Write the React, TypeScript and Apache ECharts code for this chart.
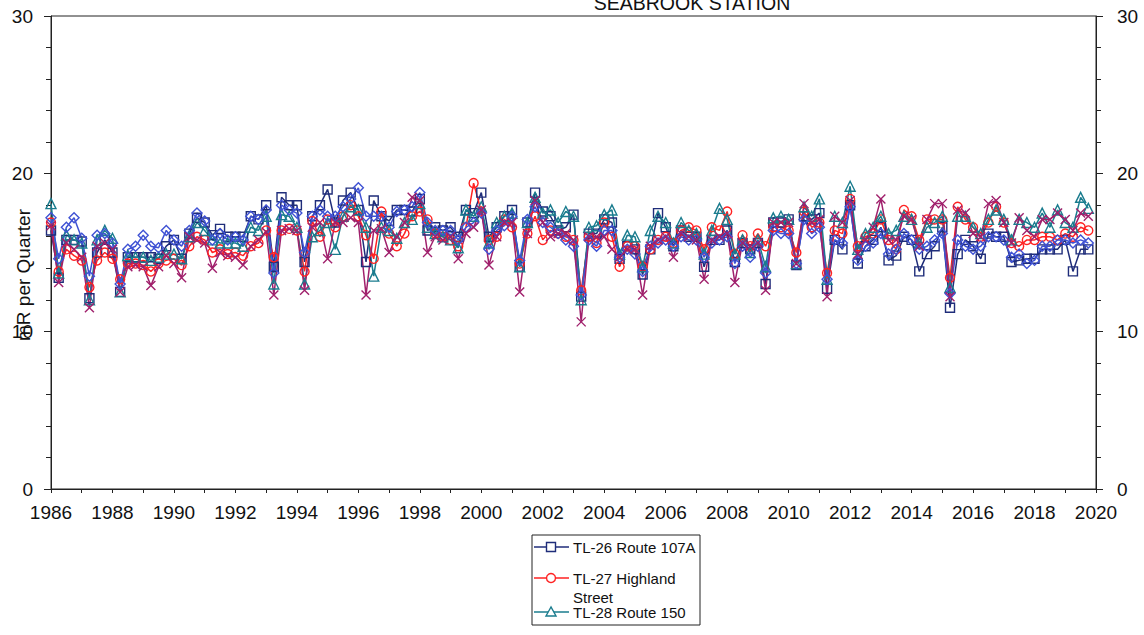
import React, { useEffect, useRef } from "react";
import * as echarts from "echarts";

// Quarterly environmental TLD readings (mR per quarter), 1986 Q1 onward.
const START_YEAR = 1986;

const tl26Route107A = [
  16.4, 13.4, 15.8, 15.8, 15.7, 12.1, 15.0, 15.8, 15.0, 12.5, 14.7, 14.7,
  14.7, 14.7, 14.6, 15.4, 15.8, 14.6, 16.2, 17.2, 16.9, 16.1, 16.5, 16.0,
  16.0, 16.0, 17.3, 17.1, 18.0, 14.1, 18.5, 18.0, 18.0, 14.4, 17.3, 18.0,
  19.0, 16.9, 18.3, 18.8, 17.7, 14.4, 18.3, 17.3, 17.0, 17.7, 17.7, 17.6,
  18.4, 16.4, 16.6, 16.4, 16.6, 16.0, 17.7, 17.5, 18.8, 16.0, 16.6, 17.3,
  17.7, 14.1, 16.9, 18.8, 17.6, 17.3, 16.4, 16.6, 17.4, 12.2, 16.2, 16.2,
  17.1, 16.9, 14.6, 15.4, 15.2, 13.6, 15.2, 17.5, 16.6, 15.4, 16.4, 16.0,
  16.0, 14.1, 15.8, 15.8, 16.4, 14.4, 15.6, 15.2, 15.6, 13.0, 16.9, 16.9,
  17.1, 14.2, 17.3, 17.1, 17.5, 12.7, 15.8, 15.2, 18.0, 14.3, 15.4, 15.8,
  16.6, 14.5, 14.8, 16.0, 15.8, 13.8, 14.9, 15.4, 16.6, 11.5, 14.9, 15.8,
  15.4, 14.6, 16.2, 16.0, 16.0, 14.4, 14.5, 14.6, 14.6, 15.2, 15.2, 15.2,
  15.8, 13.8, 15.2, 15.2,
];

const tl27HighlandStreet = [
  16.9, 13.8, 15.2, 14.8, 14.5, 12.8, 14.5, 15.0, 14.6, 13.3, 14.3, 14.3,
  14.2, 13.8, 14.3, 14.5, 14.6, 14.2, 15.4, 16.0, 15.8, 15.0, 15.2, 14.9,
  15.0, 14.8, 15.4, 15.6, 16.4, 14.7, 16.4, 16.5, 16.4, 13.8, 17.0, 16.0,
  17.1, 16.6, 17.3, 18.0, 17.3, 16.1, 14.6, 17.6, 16.2, 15.4, 16.2, 17.3,
  17.6, 17.1, 16.2, 16.0, 15.8, 15.4, 16.6, 19.4, 17.6, 15.8, 16.0, 17.1,
  16.6, 14.3, 16.2, 17.3, 15.8, 16.4, 16.2, 16.0, 15.8, 12.6, 16.0, 15.6,
  16.9, 16.0, 14.1, 15.4, 15.4, 14.1, 15.2, 15.8, 16.0, 15.6, 16.4, 16.6,
  16.4, 15.2, 16.6, 16.4, 17.6, 14.9, 16.1, 15.4, 16.2, 15.4, 16.6, 16.6,
  16.4, 15.0, 17.6, 16.6, 16.9, 13.7, 16.4, 16.2, 18.4, 15.4, 16.0, 16.2,
  17.1, 15.8, 15.2, 17.7, 17.3, 15.8, 17.1, 17.1, 17.1, 13.4, 17.9, 17.1,
  16.6, 16.0, 16.9, 17.9, 16.9, 15.6, 15.4, 15.8, 15.8, 16.0, 16.0, 15.8,
  16.2, 16.0, 16.6, 16.4,
];

const tl28Route150 = [
  18.1, 13.7, 16.1, 15.8, 15.6, 12.0, 15.8, 16.4, 15.9, 12.5, 14.8, 14.7,
  14.7, 14.5, 14.7, 14.9, 14.9, 14.6, 16.0, 16.9, 16.4, 15.8, 15.6, 15.6,
  15.6, 15.4, 16.6, 16.4, 17.3, 13.0, 17.4, 17.3, 16.6, 13.0, 16.0, 16.4,
  16.9, 15.2, 17.3, 17.9, 17.7, 16.6, 13.5, 16.6, 16.4, 15.9, 16.9, 17.1,
  18.1, 16.6, 16.2, 16.0, 15.8, 15.3, 17.7, 17.3, 17.9, 15.6, 16.9, 17.3,
  17.5, 14.1, 16.9, 18.5, 17.5, 17.7, 16.9, 17.6, 17.3, 12.0, 16.6, 16.7,
  17.4, 17.7, 14.9, 16.1, 16.0, 14.1, 16.4, 17.3, 16.9, 15.6, 16.9, 16.4,
  16.2, 14.9, 16.4, 17.8, 17.1, 14.9, 15.8, 15.0, 15.8, 14.1, 17.2, 17.3,
  17.1, 14.3, 17.9, 17.3, 18.4, 13.3, 17.3, 16.9, 19.2, 15.2, 16.2, 16.6,
  17.3, 16.2, 16.4, 17.3, 17.1, 15.6, 16.6, 16.9, 17.3, 12.8, 17.3, 17.3,
  16.6, 16.2, 17.1, 17.7, 17.1, 15.8, 17.1, 16.9, 16.6, 17.5, 16.6, 17.7,
  16.9, 16.6, 18.5, 17.8,
];

const diamondStation = [
  17.2, 14.6, 16.6, 17.2, 15.9, 13.5, 16.1, 16.2, 15.6, 13.0, 15.2, 15.4,
  16.1, 15.4, 15.3, 16.4, 15.8, 15.4, 16.4, 17.5, 17.0, 15.8, 16.2, 15.8,
  16.0, 15.8, 17.3, 17.1, 17.7, 13.7, 18.0, 17.7, 17.5, 15.0, 17.3, 17.7,
  17.3, 17.3, 17.9, 18.4, 19.1, 17.3, 17.3, 17.3, 16.6, 17.6, 17.7, 17.9,
  18.8, 16.9, 16.4, 16.4, 16.4, 15.8, 16.6, 16.9, 17.5, 15.2, 16.4, 16.7,
  17.3, 14.5, 17.1, 17.9, 16.9, 16.6, 16.2, 15.8, 15.4, 12.3, 15.8, 15.4,
  16.4, 16.4, 14.7, 15.2, 14.9, 13.8, 15.4, 15.6, 15.8, 15.4, 16.0, 15.8,
  15.8, 14.7, 15.6, 15.8, 16.0, 14.3, 15.4, 14.7, 15.4, 13.7, 16.4, 16.2,
  16.2, 14.3, 17.1, 16.2, 16.6, 13.3, 15.8, 15.6, 17.9, 14.5, 15.4, 15.6,
  16.2, 14.9, 15.2, 16.2, 15.8, 15.2, 15.4, 15.8, 16.2, 12.4, 15.8, 15.4,
  15.2, 15.4, 16.0, 16.0, 15.8, 14.7, 14.9, 14.3, 14.5, 15.4, 15.4, 15.8,
  15.8, 15.6, 15.8, 15.6,
];

const crossStation = [
  16.7, 13.1, 15.6, 15.2, 14.7, 11.5, 15.4, 15.6, 15.2, 12.5, 14.1, 14.2,
  14.1, 12.9, 14.1, 14.8, 14.3, 13.4, 16.0, 15.8, 15.6, 14.0, 15.0, 14.8,
  14.7, 14.2, 15.4, 15.8, 16.3, 12.3, 16.4, 16.5, 16.4, 12.6, 16.6, 16.9,
  14.6, 16.9, 16.9, 17.2, 16.9, 12.3, 16.4, 16.5, 15.0, 16.0, 16.9, 18.5,
  18.3, 15.0, 16.0, 15.8, 16.0, 14.6, 16.2, 16.6, 17.7, 14.2, 16.0, 16.9,
  16.9, 12.5, 16.2, 18.3, 16.9, 16.0, 16.2, 16.2, 15.8, 10.6, 16.0, 16.0,
  16.0, 15.2, 14.7, 15.2, 15.2, 12.3, 15.4, 15.8, 16.0, 14.7, 16.2, 16.0,
  15.8, 13.3, 15.8, 16.0, 16.2, 13.1, 15.6, 15.4, 15.6, 12.6, 16.9, 16.9,
  16.9, 14.3, 18.1, 16.9, 17.1, 12.2, 17.3, 16.9, 18.3, 14.9, 15.8, 16.6,
  18.4, 15.8, 15.8, 17.3, 17.1, 15.4, 17.1, 18.1, 18.1, 12.2, 17.7, 17.5,
  16.2, 16.0, 18.1, 18.3, 16.9, 15.6, 17.2, 16.4, 16.0, 17.1, 17.1, 17.5,
  17.1, 16.4, 17.5, 17.3,
];

const legendLabels = ["TL-26 Route 107A", "TL-27 Highland\nStreet", "TL-28 Route 150"];

const FONT = '"Liberation Sans", Arial, Helvetica, sans-serif';
const NAVY = "#1f2d7a";
const RED = "#ff2222";
const TEAL = "#1a7c8e";
const ROYAL = "#3f52d4";
const PLUM = "#a0206c";

const quarterPoints = (values: number[]) =>
  values.map((v, i) => [START_YEAR + i * 0.25, v]);

const lineSeries = (
  name: string,
  values: number[],
  color: string,
  symbol: string,
  symbolSize: number
) => ({
  name,
  type: "line",
  data: quarterPoints(values),
  symbol,
  symbolSize,
  showSymbol: true,
  lineStyle: { color, width: 1.5 },
  itemStyle: { color: "transparent", borderColor: color, borderWidth: 1.4 },
  emphasis: { disabled: true },
  z: 3,
});

export default function App() {
  const ref = useRef<HTMLDivElement>(null);

  useEffect(() => {
    document.body.style.margin = "0";
    if (!ref.current) return;
    const chart = echarts.init(ref.current, null, { renderer: "svg" });

    const legendY = [547, 578, 612];
    const legendColors = [NAVY, RED, TEAL];
    const lx1 = 534;
    const lx2 = 569;
    const mx = 551;
    const tx = 573;

    const legendChildren: any[] = [
      {
        type: "rect",
        shape: { x: 532, y: 535, width: 168, height: 90 },
        style: { fill: "#fff", stroke: "#222", lineWidth: 1 },
      },
    ];
    legendY.forEach((y, i) => {
      legendChildren.push({
        type: "line",
        shape: { x1: lx1, y1: y, x2: lx2, y2: y },
        style: { stroke: legendColors[i], lineWidth: 1.5 },
      });
    });
    legendChildren.push(
      {
        type: "rect",
        shape: { x: mx - 4.5, y: legendY[0] - 4.5, width: 9, height: 9 },
        style: { fill: "#fff", stroke: NAVY, lineWidth: 1.4 },
      },
      {
        type: "circle",
        shape: { cx: mx, cy: legendY[1], r: 4.5 },
        style: { fill: "#fff", stroke: RED, lineWidth: 1.4 },
      },
      {
        type: "polygon",
        shape: {
          points: [
            [mx, legendY[2] - 5],
            [mx - 5, legendY[2] + 4],
            [mx + 5, legendY[2] + 4],
          ],
        },
        style: { fill: "#fff", stroke: TEAL, lineWidth: 1.4 },
      }
    );
    const legendLines = [
      { text: legendLabels[0], y: legendY[0] },
      { text: legendLabels[1].split("\n")[0], y: legendY[1] },
      { text: legendLabels[1].split("\n")[1], y: 597 },
      { text: legendLabels[2], y: legendY[2] },
    ];
    legendLines.forEach((l) => {
      legendChildren.push({
        type: "text",
        x: tx,
        y: l.y,
        style: {
          text: l.text,
          font: `15px ${FONT}`,
          fill: "#111",
          textAlign: "left",
          textVerticalAlign: "middle",
        },
      });
    });

    const yAxisBase = {
      type: "value",
      min: 0,
      max: 30,
      interval: 10,
      axisLine: { show: true, lineStyle: { color: "#222", width: 1 } },
      axisTick: { show: true, length: 7, lineStyle: { color: "#222" } },
      minorTick: { show: true, splitNumber: 5, length: 5, lineStyle: { color: "#222" } },
      splitLine: { show: false },
      minorSplitLine: { show: false },
    };

    chart.setOption({
      animation: false,
      backgroundColor: "#fff",
      grid: {
        left: 51,
        right: 48,
        top: 16,
        bottom: 146,
        show: true,
        borderColor: "#222",
        borderWidth: 1,
        backgroundColor: "transparent",
      },
      xAxis: {
        type: "value",
        min: 1986,
        max: 2020,
        interval: 2,
        axisLine: { show: true, lineStyle: { color: "#222", width: 1 } },
        axisTick: { show: true, length: 4, lineStyle: { color: "#222" } },
        minorTick: { show: true, splitNumber: 2, length: 4, lineStyle: { color: "#222" } },
        splitLine: { show: false },
        axisLabel: {
          fontSize: 19,
          fontFamily: FONT,
          color: "#111",
          margin: 14,
          formatter: (v: number) => String(v),
        },
      },
      yAxis: [
        {
          ...yAxisBase,
          position: "left",
          axisLabel: { fontSize: 19, fontFamily: FONT, color: "#111", margin: 18 },
        },
        {
          ...yAxisBase,
          position: "right",
          axisLabel: { fontSize: 19, fontFamily: FONT, color: "#111", margin: 21 },
        },
      ],
      series: [
        lineSeries("TL-26 Route 107A", tl26Route107A, NAVY, "rect", 9),
        lineSeries("TL-27 Highland Street", tl27HighlandStreet, RED, "circle", 9),
        lineSeries("TL-28 Route 150", tl28Route150, TEAL, "triangle", 10),
        lineSeries("Diamond station", diamondStation, ROYAL, "diamond", 10),
        lineSeries(
          "Cross station",
          crossStation,
          PLUM,
          "path://M0 0L10 10M10 0L0 10",
          9
        ),
      ],
      graphic: [
        {
          type: "text",
          x: 692,
          y: 13,
          style: {
            text: "SEABROOK STATION",
            font: `19.5px ${FONT}`,
            fill: "#111",
            textAlign: "center",
            textVerticalAlign: "bottom",
          },
        },
        {
          type: "text",
          x: 23,
          y: 275,
          rotation: Math.PI / 2,
          style: {
            text: "mR per Quarter",
            font: `19px ${FONT}`,
            fill: "#111",
            textAlign: "center",
            textVerticalAlign: "middle",
          },
        },
        { type: "group", children: legendChildren },
      ],
    });

    return () => chart.dispose();
  }, []);

  return <div ref={ref} style={{ width: 1144, height: 635 }} />;
}
